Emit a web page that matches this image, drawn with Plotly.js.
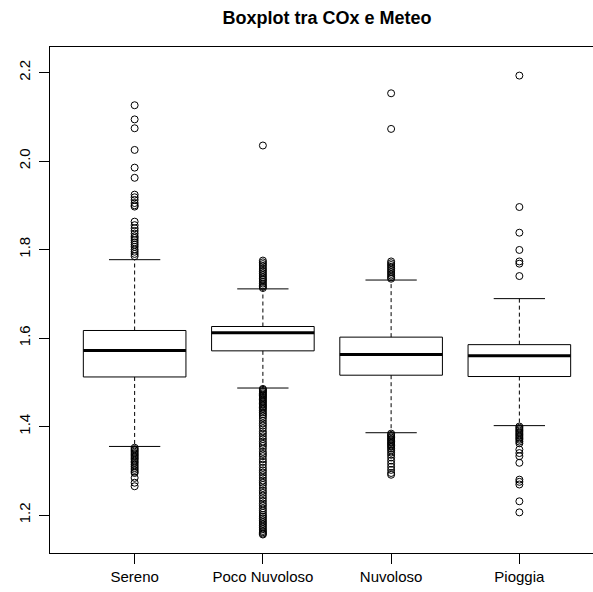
<!DOCTYPE html>
<html>
<head>
<meta charset="utf-8">
<script src="https://cdn.plot.ly/plotly-3.0.1.min.js"></script>
<style>
  html, body { margin: 0; padding: 0; overflow: hidden; background: #fff; }
  #chart { width: 620px; height: 592px; }
</style>
</head>
<body>
<div id="chart"></div>
<script>
// ---- Data ----
const categories = ['Sereno', 'Poco Nuvoloso', 'Nuvoloso', 'Pioggia'];
const q1 = [1.512, 1.571, 1.516, 1.513];
const medians = [1.572, 1.612, 1.563, 1.560];
const q3 = [1.617, 1.626, 1.602, 1.585];
const lowerWhisker = [1.355, 1.487, 1.386, 1.402];
const upperWhisker = [1.777, 1.711, 1.731, 1.689];

const outSereno = [2.126, 2.094, 2.074, 2.025, 1.985, 1.962, 1.924, 1.918, 1.912, 1.905, 1.900, 1.897,
  1.863, 1.855, 1.848, 1.842, 1.836, 1.830, 1.826, 1.821, 1.816, 1.811, 1.806, 1.800, 1.795, 1.790, 1.785,
  1.352, 1.349, 1.346, 1.343, 1.340, 1.337, 1.334, 1.331, 1.328, 1.325, 1.321, 1.318, 1.314, 1.310,
  1.306, 1.302, 1.298, 1.295, 1.284, 1.273, 1.265];
const outPocoNuvoloso = [2.035, 1.775, 1.771, 1.767, 1.763, 1.758, 1.754, 1.750, 1.746, 1.742, 1.738,
  1.734, 1.731, 1.727, 1.723, 1.719, 1.716, 1.713,
  1.485, 1.483, 1.480, 1.478, 1.475, 1.472, 1.470, 1.467, 1.464, 1.461, 1.458, 1.455, 1.452, 1.449,
  1.446, 1.443, 1.440, 1.436, 1.432, 1.428, 1.424, 1.419, 1.413, 1.407, 1.402, 1.396, 1.389,
  1.384, 1.378, 1.372, 1.366, 1.361, 1.356, 1.350, 1.343, 1.338, 1.333, 1.326,
  1.320, 1.314, 1.307, 1.301, 1.296, 1.290, 1.284, 1.278, 1.273, 1.268, 1.261,
  1.255, 1.250, 1.244, 1.238, 1.232, 1.226, 1.221, 1.215, 1.210, 1.205, 1.200,
  1.196, 1.192, 1.188, 1.184, 1.180, 1.176, 1.172, 1.168, 1.164, 1.161, 1.158, 1.156];
const outNuvoloso = [2.153, 2.0725, 1.773, 1.769, 1.765, 1.761, 1.757, 1.753, 1.749, 1.745, 1.741,
  1.737, 1.734,
  1.384, 1.381, 1.378, 1.375, 1.372, 1.369, 1.366, 1.363, 1.360, 1.357, 1.354, 1.350, 1.346, 1.341,
  1.336, 1.330, 1.323, 1.316, 1.309, 1.302, 1.295, 1.291];
const outPioggia = [2.193, 1.896, 1.838, 1.799, 1.773, 1.768, 1.740,
  1.400, 1.397, 1.394, 1.391, 1.388, 1.385, 1.382, 1.379, 1.376, 1.373, 1.370, 1.366, 1.362,
  1.348, 1.340, 1.333, 1.318, 1.280, 1.275, 1.269, 1.231, 1.206];
const outliers = [outSereno, outPocoNuvoloso, outNuvoloso, outPioggia];

// ---- Build R-style boxplot from the arrays ----
const boxHalf = 0.4, stapleHalf = 0.2;
const bx = [], by = [], mx = [], my = [], wx = [], wy = [], sx = [], sy = [], ox = [], oy = [];
categories.forEach((c, k) => {
  const i = k + 1;
  bx.push(i - boxHalf, i + boxHalf, i + boxHalf, i - boxHalf, i - boxHalf, null);
  by.push(q1[k], q1[k], q3[k], q3[k], q1[k], null);
  mx.push(i - boxHalf, i + boxHalf, null);
  my.push(medians[k], medians[k], null);
  wx.push(i, i, null, i, i, null);
  wy.push(q3[k], upperWhisker[k], null, q1[k], lowerWhisker[k], null);
  sx.push(i - stapleHalf, i + stapleHalf, null, i - stapleHalf, i + stapleHalf, null);
  sy.push(upperWhisker[k], upperWhisker[k], null, lowerWhisker[k], lowerWhisker[k], null);
  outliers[k].forEach(v => { ox.push(i); oy.push(v); });
});

const black = '#000000';
const traces = [
  { x: wx, y: wy, mode: 'lines', line: { color: black, width: 1, dash: '4px,3px' }, hoverinfo: 'skip' },
  { x: sx, y: sy, mode: 'lines', line: { color: black, width: 1 }, hoverinfo: 'skip' },
  { x: bx, y: by, mode: 'lines', line: { color: black, width: 1 }, hoverinfo: 'skip' },
  { x: mx, y: my, mode: 'lines', line: { color: black, width: 3 }, hoverinfo: 'skip' },
  { x: ox, y: oy, mode: 'markers', marker: { symbol: 'circle-open', size: 7, color: black, line: { width: 1, color: black } } }
];

const font = 'Liberation Sans, Arial, Helvetica, sans-serif';
const layout = {
  width: 620, height: 592,
  margin: { l: 50, r: 16, t: 47, b: 39 },
  paper_bgcolor: '#ffffff', plot_bgcolor: '#ffffff',
  showlegend: false,
  font: { family: font, size: 15, color: black },
  title: {
    text: 'Boxplot tra COx e Meteo',
    font: { family: font, size: 18, color: black, weight: 'bold' },
    xref: 'paper', x: 0.5, xanchor: 'center',
    yref: 'container', y: 1 - 18 / 592, yanchor: 'middle'
  },
  xaxis: {
    range: [0.34, 4.66], tickmode: 'array', tickvals: [1, 2, 3, 4], ticktext: categories,
    showgrid: false, zeroline: false, showline: true, mirror: true, linecolor: black, linewidth: 1,
    ticks: 'outside', ticklen: 10, tickcolor: black, tickwidth: 1,
    tickfont: { family: font, size: 15, color: black }
  },
  yaxis: {
    range: [1.1142, 2.2576], tickmode: 'array', tickvals: [1.2, 1.4, 1.6, 1.8, 2.0, 2.2],
    ticktext: ['1.2', '1.4', '1.6', '1.8', '2.0', '2.2'], tickangle: -90,
    showgrid: false, zeroline: false, showline: true, mirror: true, linecolor: black, linewidth: 1,
    ticks: 'outside', ticklen: 10, tickcolor: black, tickwidth: 1, ticklabelstandoff: 3,
    tickfont: { family: font, size: 15, color: black }
  }
};

Plotly.newPlot('chart', traces, layout, { staticPlot: true, displayModeBar: false });
</script>
</body>
</html>
